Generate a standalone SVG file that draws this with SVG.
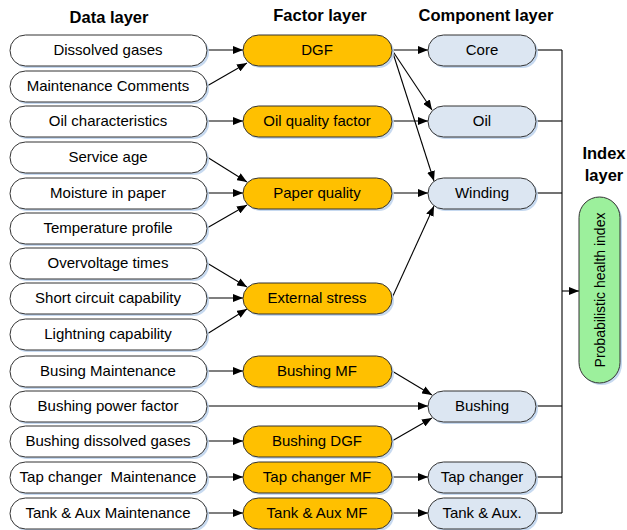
<svg xmlns="http://www.w3.org/2000/svg" width="627" height="530" viewBox="0 0 627 530">
<defs>
<marker id="ah" markerWidth="10" markerHeight="8" refX="10" refY="4" orient="auto" markerUnits="userSpaceOnUse">
<path d="M0,0 L10,4 L0,8 Z" fill="#000"/>
</marker>
</defs>
<style>
.sh{fill:#c6d9f0;stroke:none}
.d{fill:#fff;stroke:#333;stroke-width:1}
.f{fill:#ffc000;stroke:#333;stroke-width:1}
.c{fill:#dce6f2;stroke:#333;stroke-width:1}
.i{fill:#9cf09c;stroke:#333;stroke-width:1}
text{font-family:"Liberation Sans",Arial,sans-serif;fill:#000}
.t{font-size:15px;text-anchor:middle}
.h{font-size:16.5px;font-weight:bold;text-anchor:middle}
.l{stroke:#000;stroke-width:1.1;fill:none}
.a{stroke:#000;stroke-width:1.1;fill:none;marker-end:url(#ah)}
</style>
<rect width="627" height="530" fill="#fff"/>
<g id="titles">
<text class="h" x="109" y="23">Data layer</text>
<text class="h" x="320" y="21">Factor layer</text>
<text class="h" x="486" y="21">Component layer</text>
<text class="h" x="604" y="159">Index</text>
<text class="h" x="604" y="181">layer</text>
</g>
<g id="connectors">
<line class="a" x1="207" y1="50" x2="243" y2="50"/>
<line class="a" x1="207" y1="86" x2="247" y2="63"/>
<line class="a" x1="207" y1="121" x2="243" y2="121"/>
<line class="a" x1="207" y1="157" x2="247" y2="182"/>
<line class="a" x1="207" y1="193" x2="243" y2="193"/>
<line class="a" x1="207" y1="228" x2="247" y2="205"/>
<line class="a" x1="207" y1="263" x2="247" y2="287"/>
<line class="a" x1="207" y1="298" x2="243" y2="298"/>
<line class="a" x1="207" y1="334" x2="247" y2="309"/>
<line class="a" x1="207" y1="371" x2="243" y2="371"/>
<line class="a" x1="207" y1="406" x2="428" y2="406"/>
<line class="a" x1="207" y1="441" x2="243" y2="441"/>
<line class="a" x1="207" y1="477" x2="243" y2="477"/>
<line class="a" x1="207" y1="513" x2="243" y2="513"/>
<line class="a" x1="392" y1="50" x2="428" y2="50"/>
<line class="a" x1="392" y1="50" x2="432" y2="110"/>
<line class="a" x1="392" y1="50" x2="434" y2="181"/>
<line class="a" x1="392" y1="121" x2="428" y2="121"/>
<line class="a" x1="392" y1="193" x2="428" y2="193"/>
<line class="a" x1="392" y1="298" x2="434" y2="206"/>
<line class="a" x1="392" y1="371" x2="432" y2="395"/>
<line class="a" x1="392" y1="441" x2="432" y2="418"/>
<line class="a" x1="392" y1="477" x2="428" y2="477"/>
<line class="a" x1="392" y1="513" x2="428" y2="513"/>
<line class="l" x1="536" y1="50" x2="562" y2="50"/>
<line class="l" x1="536" y1="121" x2="562" y2="121"/>
<line class="l" x1="536" y1="193" x2="562" y2="193"/>
<line class="l" x1="536" y1="406" x2="562" y2="406"/>
<line class="l" x1="536" y1="477" x2="562" y2="477"/>
<line class="l" x1="536" y1="513" x2="562" y2="513"/>
<line class="l" x1="562" y1="50" x2="562" y2="513"/>
<line class="a" x1="562" y1="291" x2="579" y2="291"/>
</g>
<g id="d1"><rect class="sh" x="12" y="37" width="197" height="31" rx="15.5"/><rect class="d" x="10" y="35" width="197" height="31" rx="15.5"/><text class="t" x="108" y="55">Dissolved gases</text></g>
<g id="d2"><rect class="sh" x="12" y="73" width="197" height="31" rx="15.5"/><rect class="d" x="10" y="71" width="197" height="31" rx="15.5"/><text class="t" x="108" y="91">Maintenance Comments</text></g>
<g id="d3"><rect class="sh" x="12" y="108" width="197" height="31" rx="15.5"/><rect class="d" x="10" y="106" width="197" height="31" rx="15.5"/><text class="t" x="108" y="126">Oil characteristics</text></g>
<g id="d4"><rect class="sh" x="12" y="144" width="197" height="31" rx="15.5"/><rect class="d" x="10" y="142" width="197" height="31" rx="15.5"/><text class="t" x="108" y="162">Service age</text></g>
<g id="d5"><rect class="sh" x="12" y="180" width="197" height="31" rx="15.5"/><rect class="d" x="10" y="178" width="197" height="31" rx="15.5"/><text class="t" x="108" y="198">Moisture in paper</text></g>
<g id="d6"><rect class="sh" x="12" y="215" width="197" height="31" rx="15.5"/><rect class="d" x="10" y="213" width="197" height="31" rx="15.5"/><text class="t" x="108" y="233">Temperature profile</text></g>
<g id="d7"><rect class="sh" x="12" y="250" width="197" height="31" rx="15.5"/><rect class="d" x="10" y="248" width="197" height="31" rx="15.5"/><text class="t" x="108" y="268">Overvoltage times</text></g>
<g id="d8"><rect class="sh" x="12" y="285" width="197" height="31" rx="15.5"/><rect class="d" x="10" y="283" width="197" height="31" rx="15.5"/><text class="t" x="108" y="303">Short circuit capability</text></g>
<g id="d9"><rect class="sh" x="12" y="321" width="197" height="31" rx="15.5"/><rect class="d" x="10" y="319" width="197" height="31" rx="15.5"/><text class="t" x="108" y="339">Lightning capability</text></g>
<g id="d10"><rect class="sh" x="12" y="358" width="197" height="31" rx="15.5"/><rect class="d" x="10" y="356" width="197" height="31" rx="15.5"/><text class="t" x="108" y="376">Busing Maintenance</text></g>
<g id="d11"><rect class="sh" x="12" y="393" width="197" height="31" rx="15.5"/><rect class="d" x="10" y="391" width="197" height="31" rx="15.5"/><text class="t" x="108" y="411">Bushing power factor</text></g>
<g id="d12"><rect class="sh" x="12" y="428" width="197" height="31" rx="15.5"/><rect class="d" x="10" y="426" width="197" height="31" rx="15.5"/><text class="t" x="108" y="446">Bushing dissolved gases</text></g>
<g id="d13"><rect class="sh" x="12" y="464" width="197" height="31" rx="15.5"/><rect class="d" x="10" y="462" width="197" height="31" rx="15.5"/><text class="t" x="108" y="482" xml:space="preserve">Tap changer  Maintenance</text></g>
<g id="d14"><rect class="sh" x="12" y="500" width="197" height="31" rx="15.5"/><rect class="d" x="10" y="498" width="197" height="31" rx="15.5"/><text class="t" x="108" y="518">Tank &amp; Aux Maintenance</text></g>
<g id="f1"><rect class="sh" x="245" y="37" width="149" height="31" rx="15.5"/><rect class="f" x="243" y="35" width="149" height="31" rx="15.5"/><text class="t" x="317" y="55">DGF</text></g>
<g id="f2"><rect class="sh" x="245" y="108" width="149" height="31" rx="15.5"/><rect class="f" x="243" y="106" width="149" height="31" rx="15.5"/><text class="t" x="317" y="126">Oil quality factor</text></g>
<g id="f3"><rect class="sh" x="245" y="180" width="149" height="31" rx="15.5"/><rect class="f" x="243" y="178" width="149" height="31" rx="15.5"/><text class="t" x="317" y="198">Paper quality</text></g>
<g id="f4"><rect class="sh" x="245" y="285" width="149" height="31" rx="15.5"/><rect class="f" x="243" y="283" width="149" height="31" rx="15.5"/><text class="t" x="317" y="303">External stress</text></g>
<g id="f5"><rect class="sh" x="245" y="358" width="149" height="31" rx="15.5"/><rect class="f" x="243" y="356" width="149" height="31" rx="15.5"/><text class="t" x="317" y="376">Bushing MF</text></g>
<g id="f6"><rect class="sh" x="245" y="428" width="149" height="31" rx="15.5"/><rect class="f" x="243" y="426" width="149" height="31" rx="15.5"/><text class="t" x="317" y="446">Bushing DGF</text></g>
<g id="f7"><rect class="sh" x="245" y="464" width="149" height="31" rx="15.5"/><rect class="f" x="243" y="462" width="149" height="31" rx="15.5"/><text class="t" x="317" y="482">Tap changer MF</text></g>
<g id="f8"><rect class="sh" x="245" y="500" width="149" height="31" rx="15.5"/><rect class="f" x="243" y="498" width="149" height="31" rx="15.5"/><text class="t" x="317" y="518">Tank &amp; Aux MF</text></g>
<g id="c1"><rect class="sh" x="430" y="37" width="108" height="31" rx="15.5"/><rect class="c" x="428" y="35" width="108" height="31" rx="15.5"/><text class="t" x="482" y="55">Core</text></g>
<g id="c2"><rect class="sh" x="430" y="108" width="108" height="31" rx="15.5"/><rect class="c" x="428" y="106" width="108" height="31" rx="15.5"/><text class="t" x="482" y="126">Oil</text></g>
<g id="c3"><rect class="sh" x="430" y="180" width="108" height="31" rx="15.5"/><rect class="c" x="428" y="178" width="108" height="31" rx="15.5"/><text class="t" x="482" y="198">Winding</text></g>
<g id="c4"><rect class="sh" x="430" y="393" width="108" height="31" rx="15.5"/><rect class="c" x="428" y="391" width="108" height="31" rx="15.5"/><text class="t" x="482" y="411">Bushing</text></g>
<g id="c5"><rect class="sh" x="430" y="464" width="108" height="31" rx="15.5"/><rect class="c" x="428" y="462" width="108" height="31" rx="15.5"/><text class="t" x="482" y="482">Tap changer</text></g>
<g id="c6"><rect class="sh" x="430" y="500" width="108" height="31" rx="15.5"/><rect class="c" x="428" y="498" width="108" height="31" rx="15.5"/><text class="t" x="482" y="518">Tank &amp; Aux.</text></g>
<g id="index"><rect class="sh" x="581" y="199" width="41" height="186" rx="20.5"/><rect class="i" x="579" y="197" width="41" height="186" rx="20.5"/><text class="t" x="0" y="0" font-size="14px" transform="translate(604.5,290) rotate(-90)" style="font-size:14px">Probabilistic health index</text></g>
</svg>
